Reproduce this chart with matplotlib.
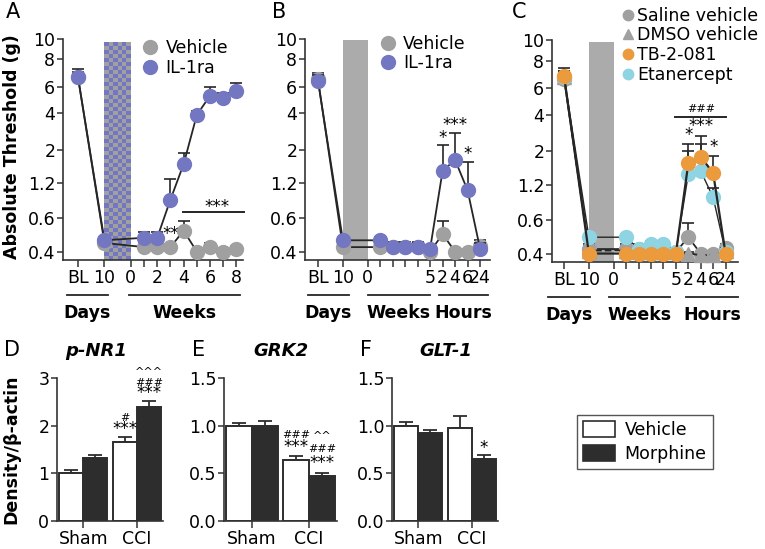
import numpy as np
import matplotlib
matplotlib.use("Agg")
import matplotlib.pyplot as plt
from matplotlib.lines import Line2D
from matplotlib.patches import Patch
from matplotlib.colors import ListedColormap
from matplotlib.ticker import NullLocator

plt.rcParams["font.family"] = "DejaVu Sans"
plt.rcParams["font.size"] = 12.5

GRAY = "#a0a0a0"
PURPLE = "#7377c2"
ORANGE = "#eb9a3c"
CYAN = "#8fd4e2"
DARK = "#262626"
SPAN = "#ababab"

W, H = 765, 549

# von Frey filament forces (g) used as tick positions, with printed labels
VF_TICKS = [0.407, 0.692, 1.202, 2.041, 3.63, 5.495, 8.511, 11.749]
VF_LABELS = ["0.4", "0.6", "1.2", "2", "4", "6", "8", "10"]

# ---- panel A: chronic IL-1ra ----
A_X = [0, 2, 5, 6, 7, 8, 9, 10, 11, 12]
A_VEH = [6.4, 0.47, 0.44, 0.44, 0.44, 0.57, 0.41, 0.44, 0.41, 0.43]
A_VEH_TOP = [7.0, 0.50, 0.46, 0.46, 0.46, 0.66, 0.42, 0.47, 0.43, 0.45]
A_IL = [6.4, 0.49, 0.51, 0.51, 0.93, 1.63, 3.54, 4.8, 4.65, 5.17]
A_IL_TOP = [7.3, 0.52, 0.56, 0.56, 1.28, 1.95, 3.8, 5.5, 5.0, 5.9]
A_TICKS = [0, 2, 4, 5, 6, 7, 8, 9, 10, 11, 12]
A_TICKLABELS = ["BL", "10", "0", "", "2", "", "4", "", "6", "", "8"]
A_GROUPS = [("Days", -0.83, 2.27), ("Weeks", 3.86, 12.27)]

# ---- panel B: acute IL-1ra ----
BC_X = [0, 2, 5, 6, 7, 8, 9, 10, 11, 12, 13]
B_VEH = [6.2, 0.44, 0.44, 0.44, 0.44, 0.44, 0.41, 0.54, 0.41, 0.41, 0.45]
B_VEH_TOP = [6.9, 0.48, 0.48, 0.47, 0.47, 0.47, 0.43, 0.66, 0.42, 0.42, 0.49]
B_IL = [6.1, 0.49, 0.49, 0.44, 0.44, 0.44, 0.43, 1.47, 1.74, 1.08, 0.43]
B_IL_TOP = [6.7, 0.52, 0.52, 0.48, 0.48, 0.48, 0.45, 2.2, 2.65, 1.68, 0.47]
BC_TICKS = [0, 2, 4, 5, 6, 7, 8, 9, 10, 11, 12, 13]
BC_TICKLABELS = ["BL", "10", "0", "", "", "", "", "5", "2", "4", "6", "24"]
B_GROUPS = [("Days", -0.8, 2.5), ("Weeks", 4.0, 9.0), ("Hours", 9.7, 13.6)]

# ---- panel C: TLR4 / TNF blockade ----
C_SAL = [6.4, 0.44, 0.44, 0.44, 0.44, 0.44, 0.42, 0.53, 0.41, 0.41, 0.45]
C_SAL_TOP = [7.0, 0.48, 0.48, 0.48, 0.48, 0.48, 0.44, 0.66, 0.42, 0.42, 0.48]
C_DMSO = [6.6, 0.43, 0.43, 0.42, 0.42, 0.42, 0.42, 0.41, 0.40, 0.40, 0.43]
C_DMSO_TOP = [7.2, 0.46, 0.46, 0.45, 0.45, 0.45, 0.44, 0.42, 0.41, 0.41, 0.46]
C_TB = [6.7, 0.41, 0.41, 0.41, 0.41, 0.41, 0.41, 1.69, 1.88, 1.45, 0.41]
C_TB_TOP = [7.6, 0.42, 0.42, 0.42, 0.42, 0.42, 0.42, 2.3, 2.6, 1.9, 0.42]
C_ET = [6.6, 0.53, 0.53, 0.44, 0.48, 0.48, 0.42, 1.43, 1.50, 0.99, 0.42]
C_ET_TOP = [7.2, 0.56, 0.56, 0.47, 0.50, 0.50, 0.44, 2.06, 2.3, 1.15, 0.45]
C_GROUPS = [("Days", -1.3, 2.1), ("Weeks", 3.6, 8.5), ("Hours", 9.8, 14.0)]

# ---- panels D-F: western blots ----
GROUPS = ["Sham", "CCI"]
D_VEH, D_VEH_TOP = [1.0, 1.65], [1.07, 1.77]
D_MOR, D_MOR_TOP = [1.33, 2.40], [1.38, 2.52]
E_VEH, E_VEH_TOP = [1.0, 0.64], [1.03, 0.685]
E_MOR, E_MOR_TOP = [1.0, 0.475], [1.045, 0.503]
F_VEH, F_VEH_TOP = [1.0, 0.975], [1.035, 1.105]
F_MOR, F_MOR_TOP = [0.923, 0.65], [0.958, 0.69]


def px_axes(fig, left, top, right, bottom):
    return fig.add_axes([left / W, 1 - bottom / H, (right - left) / W, (bottom - top) / H])


def style(ax):
    for s in ("top", "right"):
        ax.spines[s].set_visible(False)
    for s in ("left", "bottom"):
        ax.spines[s].set_linewidth(1.2)
        ax.spines[s].set_color("#333333")
    ax.tick_params(axis="y", length=4, width=1.1, pad=1.5, color="#333333")
    ax.tick_params(axis="x", length=5, width=1.1, pad=1.5, color="#333333")


def series(ax, x, mean, top, color, marker="o", ls="-", lw=1.3, z=3):
    mean = np.asarray(mean)
    up = np.asarray(top) - mean
    ax.errorbar(x, mean, yerr=[np.zeros_like(up), up], color=DARK, ls=ls, lw=lw,
                marker=marker, ms=10, mfc=color, mec=color, ecolor=DARK,
                elinewidth=1.2, capsize=4.6, capthick=1.2, zorder=z, clip_on=False)


def line_axes(ax, xlim, ticks, ticklabels, groups):
    style(ax)
    ax.set_yscale("log")
    ax.set_ylim(0.359, 11.749)
    ax.set_yticks(VF_TICKS)
    ax.set_yticklabels(VF_LABELS)
    ax.yaxis.set_minor_locator(NullLocator())
    ax.set_xlim(*xlim)
    ax.set_xticks(ticks)
    ax.set_xticklabels(ticklabels)
    tr = ax.get_xaxis_transform()
    for name, x0, x1 in groups:
        ax.plot([x0, x1], [-0.158, -0.158], color=DARK, lw=1.3, transform=tr, clip_on=False)
        ax.text((x0 + x1) / 2, -0.24, name, transform=tr, ha="center", va="center",
                fontweight="bold", fontsize=12.5)


def mark(ax, x, y, s, size=12, **kw):
    ax.text(x, y, s, ha="center", va="center", fontsize=size, clip_on=False, **kw)


fig = plt.figure(figsize=(W / 100, H / 100), dpi=100)

# ---------- A ----------
axA = px_axes(fig, 63, 39, 243, 260)
line_axes(axA, (-1.14, 12.5), A_TICKS, A_TICKLABELS, A_GROUPS)
xe = np.linspace(2, 4, 7)
ye = np.geomspace(0.359, 11.2, 55)
checker = (np.add.outer(np.arange(len(ye) - 1), np.arange(len(xe) - 1)) % 2)
axA.pcolormesh(xe, ye, checker, cmap=ListedColormap([GRAY, PURPLE]), zorder=0)
series(axA, A_X, A_VEH, A_VEH_TOP, GRAY)
series(axA, A_X, A_IL, A_IL_TOP, PURPLE, z=4)
mark(axA, 7.0, 0.545, "**")
axA.plot([7.95, 12.6], [0.77, 0.77], color=DARK, lw=1.4, clip_on=False)
mark(axA, 10.5, 0.83, "***")
axA.legend(handles=[Line2D([], [], ls="none", marker="o", ms=10, color=GRAY),
                    Line2D([], [], ls="none", marker="o", ms=10, color=PURPLE)],
           labels=["Vehicle", "IL-1ra"], loc="upper left", bbox_to_anchor=(0.435, 1.0),
           frameon=False, borderpad=0, handlelength=1.0, handletextpad=0.4,
           labelspacing=0.1, borderaxespad=0)

# ---------- B ----------
axB = px_axes(fig, 305, 39, 490, 260)
line_axes(axB, (-1.04, 13.8), BC_TICKS, BC_TICKLABELS, B_GROUPS)
axB.axvspan(2, 4, ymax=0.995, color=SPAN, lw=0, zorder=0)
series(axB, BC_X, B_VEH, B_VEH_TOP, GRAY)
series(axB, BC_X, B_IL, B_IL_TOP, PURPLE, z=4)
mark(axB, 10, 2.45, "*")
mark(axB, 11, 3.0, "***")
mark(axB, 12, 1.9, "*")
axB.legend(handles=[Line2D([], [], ls="none", marker="o", ms=10, color=GRAY),
                    Line2D([], [], ls="none", marker="o", ms=10, color=PURPLE)],
           labels=["Vehicle", "IL-1ra"], loc="upper left", bbox_to_anchor=(0.40, 1.02),
           frameon=False, borderpad=0, handlelength=1.0, handletextpad=0.4,
           labelspacing=0.1, borderaxespad=0)

# ---------- C ----------
axC = px_axes(fig, 552, 40, 738, 262)
line_axes(axC, (-0.97, 14.0), BC_TICKS, BC_TICKLABELS, C_GROUPS)
axC.axvspan(2, 4, ymax=0.99, color=SPAN, lw=0, zorder=0)
series(axC, BC_X, C_SAL, C_SAL_TOP, GRAY)
series(axC, BC_X, C_DMSO, C_DMSO_TOP, GRAY, marker="^", ls="--")
series(axC, BC_X, C_ET, C_ET_TOP, CYAN, lw=1.0, z=4)
series(axC, BC_X, C_TB, C_TB_TOP, ORANGE, lw=1.6, z=5)
axC.plot([8.95, 13.0], [3.5, 3.5], color=DARK, lw=1.4, clip_on=False)
mark(axC, 11, 4.0, "###", size=8)
mark(axC, 11, 3.03, "***")
mark(axC, 10, 2.65, "*")
mark(axC, 12, 2.2, "*")
axC.legend(handles=[Line2D([], [], ls="none", marker="o", ms=7.5, color=GRAY),
                    Line2D([], [], ls="none", marker="^", ms=7.5, color=GRAY),
                    Line2D([], [], ls="none", marker="o", ms=7.5, color=ORANGE),
                    Line2D([], [], ls="none", marker="o", ms=7.5, color=CYAN)],
           labels=["Saline vehicle", "DMSO vehicle", "TB-2-081", "Etanercept"],
           loc="upper left", bbox_to_anchor=(0.37, 1.15), frameon=False, borderpad=0,
           handlelength=0.8, handletextpad=0.15, labelspacing=0.1, borderaxespad=0)


# ---------- D-F ----------
def bar_panel(ax, veh, veh_top, mor, mor_top, ymax, yticks, yticklabels):
    style(ax)
    x = np.arange(len(GROUPS))
    w = 0.45
    for off, vals, top, fc in ((-w / 2, veh, veh_top, "white"), (w / 2, mor, mor_top, "#2d2d2d")):
        vals = np.asarray(vals)
        up = np.asarray(top) - vals
        ax.bar(x + off, vals, width=w, color=fc, edgecolor="#2d2d2d", lw=1.4, zorder=2)
        ax.errorbar(x + off, vals, yerr=[np.zeros_like(up), up], fmt="none", ecolor="#2d2d2d",
                    elinewidth=1.3, capsize=5.3, capthick=1.3, zorder=1)
    ax.set_xlim(-0.49, 1.49)
    ax.set_ylim(0, ymax)
    ax.set_yticks(yticks)
    ax.set_yticklabels(yticklabels)
    ax.set_xticks(x)
    ax.set_xticklabels(GROUPS)


axD = px_axes(fig, 57, 378, 163, 521)
bar_panel(axD, D_VEH, D_VEH_TOP, D_MOR, D_MOR_TOP, 3, [0, 1, 2, 3], ["0", "1", "2", "3"])
mark(axD, 0.775, 1.92, "***")
mark(axD, 0.775, 2.16, "#", size=8)
mark(axD, 1.225, 2.69, "***")
mark(axD, 1.225, 2.9, "###", size=8)
mark(axD, 1.225, 3.13, "^^^", size=8)

axE = px_axes(fig, 224, 378, 337, 521)
bar_panel(axE, E_VEH, E_VEH_TOP, E_MOR, E_MOR_TOP, 1.5, [0, 0.5, 1.0, 1.5],
          ["0.0", "0.5", "1.0", "1.5"])
mark(axE, 0.775, 0.78, "***")
mark(axE, 0.775, 0.905, "###", size=8)
mark(axE, 1.225, 0.61, "***")
mark(axE, 1.225, 0.75, "###", size=8)
mark(axE, 1.225, 0.89, "^^", size=8)

axF = px_axes(fig, 392, 378, 498, 521)
bar_panel(axF, F_VEH, F_VEH_TOP, F_MOR, F_MOR_TOP, 1.5, [0, 0.5, 1.0, 1.5],
          ["0.0", "0.5", "1.0", "1.5"])
mark(axF, 1.225, 0.77, "*")

fig.legend(handles=[Patch(facecolor="white", edgecolor="#2d2d2d", lw=1.2),
                    Patch(facecolor="#2d2d2d", edgecolor="#2d2d2d", lw=1.2)],
           labels=["Vehicle", "Morphine"], loc="upper left",
           bbox_to_anchor=(577 / W, 1 - 415 / H), fancybox=False, edgecolor="#555555",
           framealpha=1, borderpad=0.35, handlelength=1.85, handleheight=1.05,
           handletextpad=0.55, labelspacing=0.35, borderaxespad=0)

# ---------- labels ----------
fig.text(12 / W, 1 - 147 / H, "Absolute Threshold (g)", rotation=90, ha="center",
         va="center", fontweight="bold", fontsize=12.5)
fig.text(11 / W, 1 - 449 / H, "Density/β-actin", rotation=90, ha="center",
         va="center", fontweight="bold", fontsize=12.5)
for letter, x, y in (("A", 6, 12), ("B", 272, 12), ("C", 512, 12),
                     ("D", 4, 350), ("E", 192, 350), ("F", 360, 350)):
    fig.text(x / W, 1 - y / H, letter, ha="left", va="center", fontsize=15)
for title, x in (("p-NR1", 96), ("GRK2", 281), ("GLT-1", 446)):
    fig.text(x / W, 1 - 351 / H, title, ha="center", va="center", fontsize=13,
             fontweight="bold", fontstyle="italic")

fig.savefig("out.png", dpi=100)
